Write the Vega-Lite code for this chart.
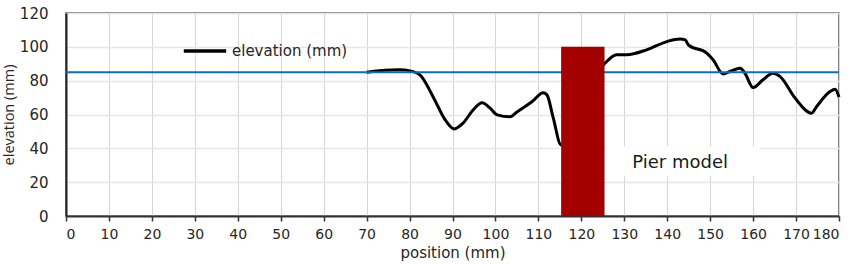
{
  "$schema": "https://vega.github.io/schema/vega-lite/v6.json",
  "width": 773,
  "height": 203,
  "autosize": "none",
  "padding": {"left": 66, "top": 13, "right": 25, "bottom": 48},
  "background": "white",
  "config": {
    "font": "DejaVu Sans",
    "view": {"stroke": "#595959", "strokeWidth": 1.5}
  },
  "datasets": {
    "profile": [
      {"x": 70, "y": 85.0},
      {"x": 73, "y": 85.8},
      {"x": 77.8, "y": 86.4},
      {"x": 80.1, "y": 85.8},
      {"x": 82.4, "y": 83.4},
      {"x": 85.5, "y": 70.4},
      {"x": 88.3, "y": 56.8},
      {"x": 90.4, "y": 51.5},
      {"x": 92.5, "y": 55.0},
      {"x": 94.8, "y": 62.7},
      {"x": 96.9, "y": 66.9},
      {"x": 98.7, "y": 63.9},
      {"x": 100.4, "y": 59.8},
      {"x": 103.4, "y": 58.6},
      {"x": 105, "y": 61.5},
      {"x": 108.5, "y": 67.5},
      {"x": 111.1, "y": 72.8},
      {"x": 112, "y": 71.6},
      {"x": 113.4, "y": 58.6},
      {"x": 115.3, "y": 42.0},
      {"x": 120, "y": 70.0},
      {"x": 125.5, "y": 90.3},
      {"x": 128.2, "y": 95.3},
      {"x": 130.6, "y": 95.3},
      {"x": 135.2, "y": 98.2},
      {"x": 139.9, "y": 103.1},
      {"x": 143, "y": 104.6},
      {"x": 144.2, "y": 104.1},
      {"x": 144.9, "y": 101.2},
      {"x": 149.2, "y": 96.3},
      {"x": 150.7, "y": 92.3},
      {"x": 153, "y": 84.0},
      {"x": 154.6, "y": 85.4},
      {"x": 157, "y": 87.4},
      {"x": 158.1, "y": 84.4},
      {"x": 160, "y": 75.9},
      {"x": 162.3, "y": 80.5},
      {"x": 164.6, "y": 84.4},
      {"x": 166.3, "y": 82.4},
      {"x": 169.8, "y": 69.6},
      {"x": 173.6, "y": 60.8},
      {"x": 174.8, "y": 64.7},
      {"x": 177.9, "y": 73.6},
      {"x": 179.1, "y": 75.0},
      {"x": 180, "y": 70.3}
    ],
    "water": [
      {"x": 0, "y": 85},
      {"x": 180, "y": 85}
    ],
    "pier": [
      {"x": 115.3, "x2": 125.4, "y": 0, "y2": 100}
    ],
    "labelbox": [
      {"x": 125.7, "x2": 161.5, "y": 23.5, "y2": 41.3}
    ],
    "label": [
      {"x": 143, "y": 31.5, "text": "Pier model"}
    ]
  },
  "encoding": {
    "x": {"field": "x", "type": "quantitative", "scale": {"domain": [0, 180], "nice": false},
      "axis": {
        "values": [0,10,20,30,40,50,60,70,80,90,100,110,120,130,140,150,160,170,180],
        "labelOverlap": false,
        "title": "position (mm)",
        "titleFont": "DejaVu Sans", "titleFontSize": 15, "titleFontWeight": "normal", "titleColor": "#262626", "titlePadding": 4,
        "labelFont": "DejaVu Sans", "labelFontSize": 14, "labelColor": "#262626", "labelPadding": 6,
        "domainColor": "#333333", "domainWidth": 2,
        "tickColor": "#333333", "tickSize": 5, "tickWidth": 1.5,
        "grid": true, "gridColor": "#d6d6d6", "gridWidth": 1
      }
    },
    "y": {"field": "y", "type": "quantitative", "scale": {"domain": [0, 120], "nice": false},
      "axis": {
        "values": [0,20,40,60,80,100,120],
        "labelOverlap": false,
        "title": "elevation (mm)",
        "titleFont": "Open Sans", "titleFontSize": 14.5, "titleFontWeight": "normal", "titleColor": "#262626", "titlePadding": 3,
        "labelFont": "DejaVu Sans", "labelFontSize": 15, "labelColor": "#262626", "labelPadding": 18,
        "tickSize": 0, "tickColor": "#222222",
        "domainColor": "#222222", "domainWidth": 2,
        "grid": true, "gridColor": "#e6e6e6", "gridWidth": 1.5
      }
    }
  },
  "layer": [
    {
      "data": {"name": "labelbox"},
      "mark": {"type": "rect", "fill": "white"},
      "encoding": {
        "x2": {"field": "x2"},
        "y2": {"field": "y2"}
      }
    },
    {
      "data": {"name": "profile"},
      "mark": {"type": "line", "interpolate": "monotone", "color": "black", "strokeWidth": 3},
      "encoding": {
        "color": {"datum": "elevation (mm)", "type": "nominal",
          "scale": {"range": ["black"]},
          "legend": {"orient": "none", "legendX": 116, "legendY": 15, "title": null,
            "symbolType": "stroke", "symbolSize": 1800, "symbolStrokeWidth": 3.5, "symbolStrokeColor": "black",
            "labelFont": "DejaVu Sans", "labelFontSize": 15, "labelColor": "#262626", "labelOffset": 4, "labelLimit": 300}
        }
      }
    },
    {
      "data": {"name": "water"},
      "mark": {"type": "line", "color": "#0a6fc2", "strokeWidth": 2},
      "encoding": {}
    },
    {
      "data": {"name": "pier"},
      "mark": {"type": "rect", "fill": "#a50000"},
      "encoding": {
        "x2": {"field": "x2"},
        "y2": {"field": "y2"}
      }
    },
    {
      "data": {"name": "label"},
      "mark": {"type": "text", "font": "DejaVu Sans", "fontSize": 18, "color": "#1a1a1a"},
      "encoding": {
        "text": {"field": "text"}
      }
    }
  ]
}
